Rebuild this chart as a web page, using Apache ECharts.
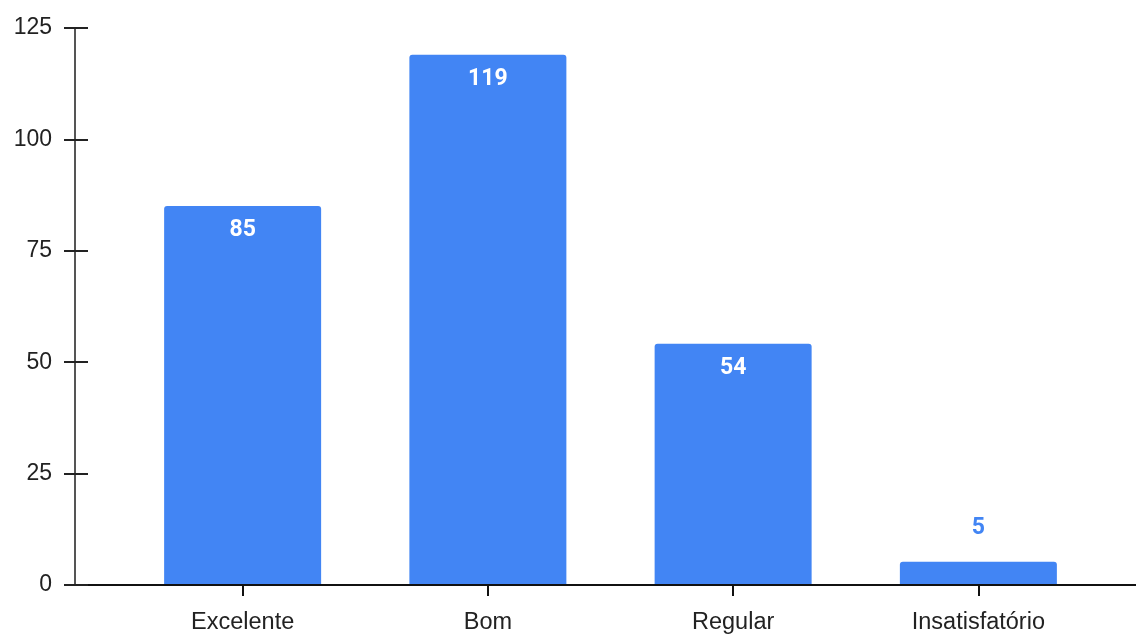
<!DOCTYPE html>
<html>
<head>
<meta charset="utf-8">
<script src="https://cdn.jsdelivr.net/npm/echarts@6/dist/echarts.min.js"></script>
<style>html,body{margin:0;padding:0;background:#fff}#c{width:1136px;height:635px}</style>
</head>
<body>
<div id="c"></div>
<script>
const categories = ['Excelente', 'Bom', 'Regular', 'Insatisfatório'];
const values = [85, 119, 54, 5];
const yMin = 0, yMax = 125, yStep = 25;

const chart = echarts.init(document.getElementById('c'));
const font = 'Liberation Sans, Arial, sans-serif';
const gTop = 28, gBottom = 50;
chart.setOption({
  animation: false,
  grid: [
    { left: 75, right: 0, top: gTop, bottom: gBottom },
    { left: 120, right: 35, top: gTop, bottom: gBottom }
  ],
  xAxis: [
    { gridIndex: 0, type: 'value', min: 0, max: 1, position: 'bottom',
      axisLine: { show: true, onZero: false, lineStyle: { color: '#111', width: 2 } },
      axisTick: { show: false }, axisLabel: { show: false }, splitLine: { show: false } },
    { gridIndex: 1, type: 'category', data: categories, position: 'bottom', axisLine: { show: false },
      axisTick: { show: true, alignWithLabel: true, length: 12, lineStyle: { color: '#111', width: 2 } },
      axisLabel: { margin: 27, fontSize: 23.5, color: '#222', fontFamily: font } },
    { gridIndex: 1, type: 'category', data: categories, position: 'bottom', axisLine: { show: false },
      axisTick: { show: true, inside: true, alignWithLabel: true, length: 11, lineStyle: { color: '#111', width: 2 } },
      axisLabel: { show: false } }
  ],
  yAxis: [
    { gridIndex: 0, type: 'value', min: yMin, max: yMax, interval: yStep, position: 'left',
      axisLine: { show: true, lineStyle: { color: '#555', width: 2 } },
      axisTick: { show: true, length: 11, lineStyle: { color: '#222', width: 2 } },
      axisLabel: { margin: 23, fontSize: 23, color: '#222', fontFamily: font },
      splitLine: { show: false } },
    { gridIndex: 0, type: 'value', min: yMin, max: yMax, interval: yStep, position: 'left',
      axisLine: { show: false },
      axisTick: { show: true, inside: true, length: 13, lineStyle: { color: '#222', width: 2 } },
      axisLabel: { show: false }, splitLine: { show: false } },
    { gridIndex: 1, type: 'value', min: yMin, max: yMax, interval: yStep, show: false }
  ],
  series: [{
    type: 'bar', xAxisIndex: 1, yAxisIndex: 2, barWidth: 157,
    data: values.map(v => {
      const small = v < 10;
      return {
        value: v,
        label: small
          ? { show: true, position: 'top', distance: 22, color: '#4285f4' }
          : { show: true, position: 'insideTop', distance: 13, color: '#fff' }
      };
    }),
    itemStyle: { color: '#4285f4', borderRadius: [3, 3, 0, 0] },
    label: { fontSize: 23, fontWeight: 'bold', fontFamily: 'Roboto, sans-serif' }
  }]
});
</script>
</body>
</html>
